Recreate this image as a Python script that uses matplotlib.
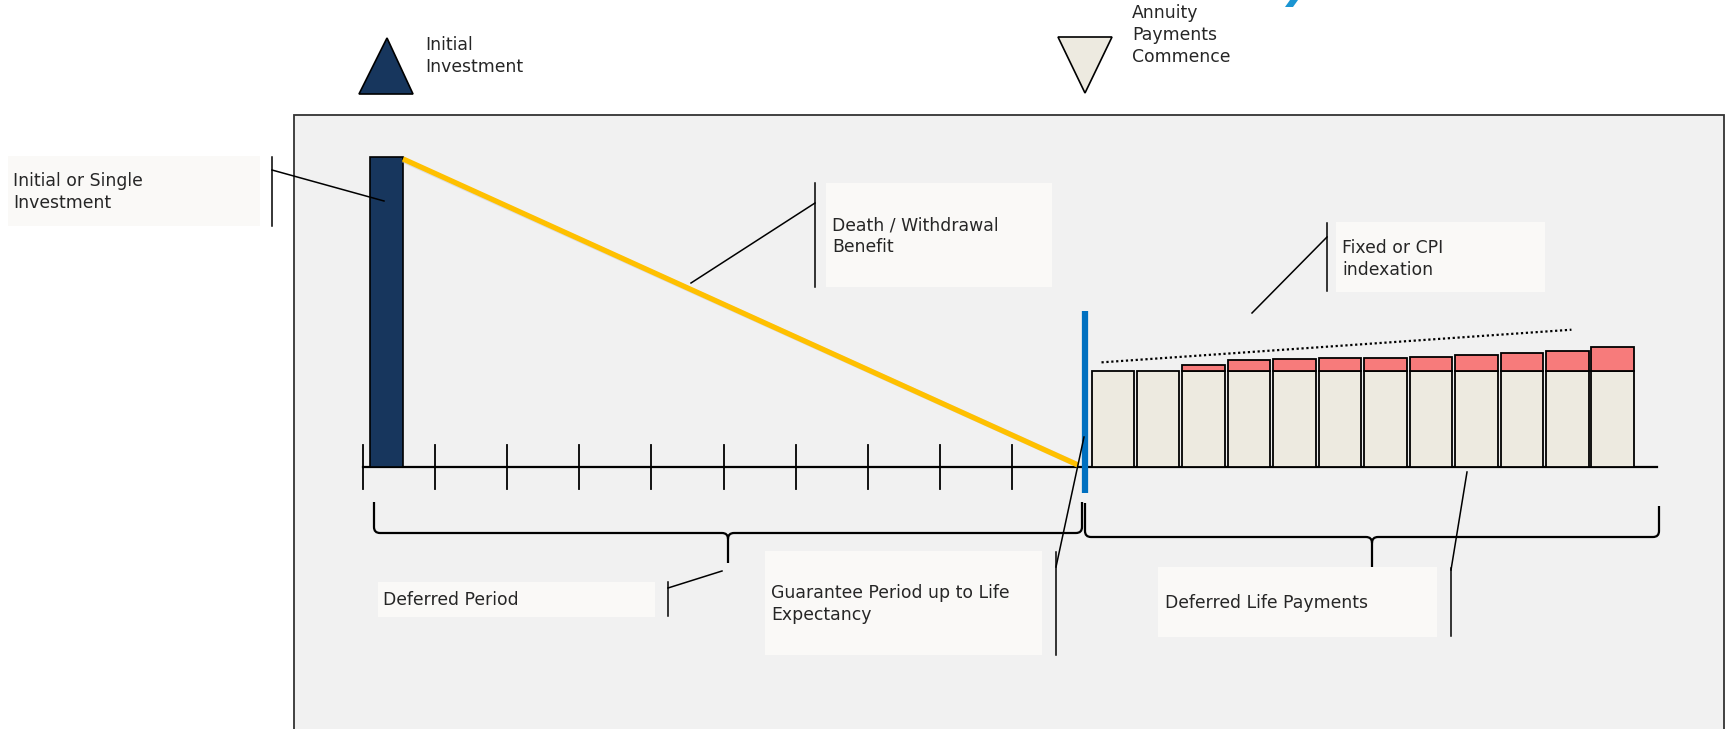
import matplotlib.pyplot as plt
from matplotlib.patches import Polygon, Rectangle, PathPatch
from matplotlib.path import Path

# payment schedule (value units)
deferral_years = 10
initial_investment = 323
base_payment = [100, 100, 100, 100, 100, 100, 100, 100, 100, 100, 100, 100]
indexation = [0, 0, 6, 11, 12.5, 14, 14, 14.5, 17, 19, 21, 25]

# layout in pixels (y grows downwards)
X0 = 363          # start of deferred period
YEAR_PX = 72.1    # width of one year on the timeline
Y_BASE = 467      # timeline baseline
UNIT = 0.96       # pixels per value unit
PAY_X0 = 1091.5   # first payment bar
PAY_STEP = 45.45
PAY_W = 42.5

NAVY = "#17365d"
BEIGE = "#edeae0"
SALMON = "#f77b7b"
YELLOW = "#ffc000"
BLUE = "#0070c0"
PANEL = "#f1f1f1"
BOX = "#faf9f7"
TXT = "#262626"

plt.rcParams["font.family"] = ["DejaVu Sans"]

fig = plt.figure(figsize=(17.25, 7.29), dpi=100)
ax = fig.add_axes([0, 0, 1, 1])
ax.set_xlim(0, 1725)
ax.set_ylim(729, 0)
ax.axis("off")

# background panel
ax.add_patch(Rectangle((294, 115), 1430, 700, facecolor=PANEL,
                       edgecolor="#333333", lw=1.3, zorder=0))

# clipped title glyph at the top
ax.add_patch(Polygon([(1285, 7), (1293, 7), (1298, 0), (1290, 0)],
                     closed=True, facecolor="#1b95d2", edgecolor="none"))

# marker triangles
ax.add_patch(Polygon([(387, 38), (359, 94), (413, 94)], closed=True,
                     facecolor=NAVY, edgecolor="black", lw=1.2, zorder=3))
ax.add_patch(Polygon([(1058, 37), (1112, 37), (1085, 93)], closed=True,
                     facecolor=BEIGE, edgecolor="black", lw=1.2, zorder=3))


def label_box(x0, y0, x1, y1):
    ax.add_patch(Rectangle((x0, y0), x1 - x0, y1 - y0, facecolor=BOX,
                           edgecolor="none", zorder=1))


def callout(xv, yv0, yv1, start, end):
    ax.plot([xv, xv], [yv0, yv1], color="black", lw=1.1, zorder=6)
    ax.plot([start[0], end[0]], [start[1], end[1]], color="black", lw=1.1, zorder=6)


label_box(8, 156, 260, 226)
label_box(826, 183, 1052, 287)
label_box(1336, 222, 1545, 292)
label_box(378, 582, 655, 617)
label_box(765, 551, 1042, 655)
label_box(1158, 567, 1437, 637)

# timeline with yearly ticks
ax.plot([X0, 1657], [Y_BASE, Y_BASE], color="black", lw=1.6, zorder=2)
for k in range(deferral_years):
    xt = X0 + k * YEAR_PX
    ax.plot([xt, xt], [445, 489], color="black", lw=1.3, zorder=2)

# initial investment bar
ax.bar(X0 + 7, -initial_investment * UNIT, bottom=Y_BASE, width=33,
       align="edge", color=NAVY, edgecolor="black", lw=1.2, zorder=3)

# annuity payments: base plus indexation
pay_x = [PAY_X0 + i * PAY_STEP for i in range(len(base_payment))]
base_h = [-b * UNIT for b in base_payment]
ax.bar(pay_x, base_h, bottom=Y_BASE, width=PAY_W, align="edge",
       color=BEIGE, edgecolor="black", lw=1.3, zorder=3)
top_bottom = [Y_BASE - b * UNIT for b in base_payment]
for x, b, v in zip(pay_x, top_bottom, indexation):
    if v > 0:
        ax.bar(x, -v * UNIT, bottom=b, width=PAY_W, align="edge",
               color=SALMON, edgecolor="black", lw=1.3, zorder=3)

# indexation trend line above the payments
totals = [b + v for b, v in zip(base_payment, indexation)]
ax.plot([pay_x[0] + 10, pay_x[-1] - 20],
        [Y_BASE - (totals[0] + 9) * UNIT, Y_BASE - (totals[-1] + 18) * UNIT],
        color="black", lw=1.6, ls=(0, (1, 1.2)), zorder=3)

# death / withdrawal benefit running down to zero
end_x = X0 + deferral_years * YEAR_PX
ax.plot([X0 + 40, end_x - 6],
        [Y_BASE - initial_investment * UNIT + 3, Y_BASE - 2],
        color="#c8c8c8", lw=4, alpha=0.5, zorder=3, solid_capstyle="butt")
ax.plot([X0 + 40, end_x - 6],
        [Y_BASE - initial_investment * UNIT + 2, Y_BASE - 2],
        color=YELLOW, lw=3.8, zorder=4, solid_capstyle="butt")

# payments commence marker
ax.plot([end_x + 1, end_x + 1], [311, 493], color=BLUE, lw=4.5, zorder=5,
        solid_capstyle="butt")


def brace(x0, x1, xm, y_top0, y_top1, y_h, y_tip, r=6):
    left = Path([(x0, y_top0), (x0, y_h - r), (x0, y_h), (x0 + r, y_h),
                 (xm - r, y_h), (xm, y_h), (xm, y_h + r), (xm, y_tip)],
                [Path.MOVETO, Path.LINETO, Path.CURVE3, Path.CURVE3,
                 Path.LINETO, Path.CURVE3, Path.CURVE3, Path.LINETO])
    right = Path([(xm, y_h + r), (xm, y_h), (xm + r, y_h), (x1 - r, y_h),
                  (x1, y_h), (x1, y_h - r), (x1, y_top1)],
                 [Path.MOVETO, Path.CURVE3, Path.CURVE3, Path.LINETO,
                  Path.CURVE3, Path.CURVE3, Path.LINETO])
    for p in (left, right):
        ax.add_patch(PathPatch(p, fill=False, edgecolor="black", lw=1.6,
                               zorder=5))


brace(374, 1082, 728, 502, 502, 533, 563)
brace(1085, 1659, 1372, 503, 506, 537, 567)

# callout leaders
callout(272, 157, 226, (272, 170), (384, 201))
callout(815, 183, 287, (815, 203), (691, 283))
callout(1327, 223, 291, (1327, 237), (1252, 313))
callout(668, 582, 616, (668, 588), (722, 571))
callout(1056, 552, 655, (1056, 567), (1084, 437))
callout(1451, 568, 636, (1451, 570), (1467, 472))

fs = 12.4
txt = dict(color=TXT, fontsize=fs, va="center", ha="left", linespacing=1.28,
           zorder=7)
ax.text(425, 56, "Initial\nInvestment", **txt)
ax.text(1132, 35, "Annuity\nPayments\nCommence", **txt)
ax.text(13, 192, "Initial or Single\nInvestment", **txt)
ax.text(832, 236, "Death / Withdrawal\nBenefit", **txt)
ax.text(1342, 259, "Fixed or CPI\nindexation", **txt)
ax.text(383, 600, "Deferred Period", **txt)
ax.text(771, 604, "Guarantee Period up to Life\nExpectancy", **txt)
ax.text(1165, 603, "Deferred Life Payments", **txt)

fig.savefig("out.png", dpi=100)
